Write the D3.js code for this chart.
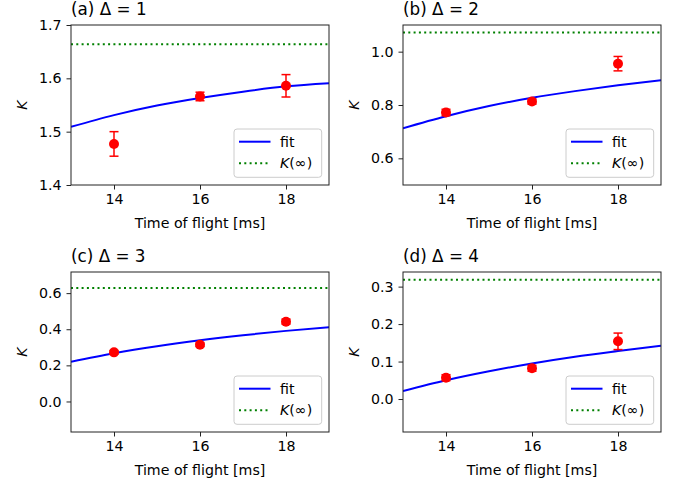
<!DOCTYPE html>
<html>
<head>
<meta charset="utf-8">
<script src="https://cdn.jsdelivr.net/npm/d3@7"></script>
<style>
  html, body { margin: 0; padding: 0; background: #fff; }
  svg { display: block; font-family: "DejaVu Sans", sans-serif; }
</style>
</head>
<body>
<svg id="chart" width="692" height="485"></svg>
<script>
// ---- data ----
const times = [14, 16, 18];
const fitTimes = [13, 14, 15, 16, 17, 18, 19];
const xTicks = [14, 16, 18];

const titles = ["(a)", "(b)", "(c)", "(d)"];
const deltas = [1, 2, 3, 4];

const kA = [1.477, 1.566, 1.586];
const errA = [0.023, 0.008, 0.021];
const fitA = [1.509, 1.531, 1.549, 1.563, 1.575, 1.585, 1.591];

const kB = [0.772, 0.813, 0.955];
const errB = [0.012, 0.010, 0.027];
const fitB = [0.713, 0.758, 0.796, 0.827, 0.852, 0.874, 0.893];

const kC = [0.272, 0.314, 0.442];
const errC = [0.010, 0.010, 0.014];
const fitC = [0.220, 0.267, 0.306, 0.339, 0.367, 0.391, 0.411];

const kD = [0.057, 0.082, 0.154];
const errD = [0.008, 0.008, 0.022];
const fitD = [0.021, 0.050, 0.074, 0.095, 0.113, 0.128, 0.142];

const kInf = [1.664, 1.072, 0.629, 0.318];

const yTicksA = [1.4, 1.5, 1.6, 1.7];
const yTicksB = [0.6, 0.8, 1.0];
const yTicksC = [0.0, 0.2, 0.4, 0.6];
const yTicksD = [0.0, 0.1, 0.2, 0.3];

const yDomA = [1.4, 1.7];
const yDomB = [0.5, 1.1];
const yDomC = [-0.169, 0.717];
const yDomD = [-0.088, 0.339];

const xDom = [13, 19];

// ---- layout ----
const svg = d3.select("#chart");
const boxes = [
  {x: 71, y: 25, w: 258, h: 160},
  {x: 403, y: 25, w: 258, h: 160},
  {x: 71, y: 272, w: 258, h: 160},
  {x: 403, y: 272, w: 258, h: 160}
];
const panelData = [
  {k: kA, err: errA, fit: fitA, ticks: yTicksA, dom: yDomA},
  {k: kB, err: errB, fit: fitB, ticks: yTicksB, dom: yDomB},
  {k: kC, err: errC, fit: fitC, ticks: yTicksC, dom: yDomC},
  {k: kD, err: errD, fit: fitD, ticks: yTicksD, dom: yDomD}
];

const FS = 14.2;

panelData.forEach((p, i) => {
  const b = boxes[i];
  const g = svg.append("g").attr("transform", `translate(${b.x},${b.y})`);
  const x = d3.scaleLinear().domain(xDom).range([0, b.w]);
  const y = d3.scaleLinear().domain(p.dom).range([b.h, 0]);

  const clipId = "clip" + i;
  g.append("clipPath").attr("id", clipId)
    .append("rect").attr("width", b.w).attr("height", b.h);
  const plot = g.append("g").attr("clip-path", `url(#${clipId})`);

  // fit curve
  const line = d3.line()
    .x((d, j) => x(fitTimes[j]))
    .y(d => y(d))
    .curve(d3.curveMonotoneX);
  plot.append("path").datum(p.fit)
    .attr("d", line)
    .attr("fill", "none")
    .attr("stroke", "#0000ff")
    .attr("stroke-width", 2);

  // K(inf)
  plot.append("line")
    .attr("x1", x(xDom[0])).attr("x2", x(xDom[1]))
    .attr("y1", y(kInf[i])).attr("y2", y(kInf[i]))
    .attr("stroke", "#008000")
    .attr("stroke-width", 2)
    .attr("stroke-dasharray", "2,3.3");

  // error bars
  const eb = plot.append("g").attr("stroke", "#ff0000").attr("stroke-width", 1.5);
  times.forEach((t, j) => {
    const cx = x(t), y1 = y(p.k[j] - p.err[j]), y2 = y(p.k[j] + p.err[j]);
    eb.append("line").attr("x1", cx).attr("x2", cx).attr("y1", y1).attr("y2", y2);
    eb.append("line").attr("x1", cx - 4.5).attr("x2", cx + 4.5).attr("y1", y1).attr("y2", y1);
    eb.append("line").attr("x1", cx - 4.5).attr("x2", cx + 4.5).attr("y1", y2).attr("y2", y2);
  });
  plot.append("g").selectAll("circle").data(times).join("circle")
    .attr("cx", d => x(d))
    .attr("cy", (d, j) => y(p.k[j]))
    .attr("r", 5)
    .attr("fill", "#ff0000");

  // axes
  const xAxis = d3.axisBottom(x).tickValues(xTicks).tickFormat(d3.format("d"))
    .tickSize(4.5).tickPadding(4);
  const xg = g.append("g").attr("transform", `translate(0,${b.h})`).call(xAxis);
  const yAxis = d3.axisLeft(y).tickValues(p.ticks).tickFormat(d3.format(".1f"))
    .tickSize(4.5).tickPadding(5);
  const yg = g.append("g").call(yAxis);
  [xg, yg].forEach(ax => {
    ax.select(".domain").remove();
    ax.selectAll(".tick line").attr("stroke", "#222").attr("stroke-width", 1);
    ax.selectAll(".tick text").attr("fill", "#000").attr("font-size", FS)
      .attr("font-family", "DejaVu Sans");
  });
  xg.selectAll(".tick text").attr("dy", "0.71em");

  // frame
  g.append("rect").attr("width", b.w).attr("height", b.h)
    .attr("fill", "none").attr("stroke", "#222").attr("stroke-width", 1);

  // x label
  g.append("text")
    .attr("x", b.w / 2).attr("y", b.h + 42.5)
    .attr("text-anchor", "middle")
    .attr("font-size", FS)
    .text("Time of flight [ms]");

  // y label
  g.append("text")
    .attr("transform", `translate(-44.5,${b.h / 2}) rotate(-90)`)
    .attr("text-anchor", "middle")
    .attr("font-size", FS)
    .attr("font-style", "italic")
    .text("K");

  // title
  const tt = g.append("text")
    .attr("x", 0).attr("y", -10)
    .attr("font-size", 16.8);
  tt.append("tspan").text(titles[i] + " Δ = " + deltas[i]);

  // legend
  const lw = 87.7, lh = 48.3;
  const lx = b.w - 7.3 - lw, ly = b.h - 7.7 - lh;
  const lg = g.append("g").attr("transform", `translate(${lx},${ly})`);
  lg.append("rect").attr("width", lw).attr("height", lh)
    .attr("rx", 3).attr("ry", 3)
    .attr("fill", "#fff").attr("fill-opacity", 0.8)
    .attr("stroke", "#cccccc").attr("stroke-width", 1);
  lg.append("line").attr("x1", 5).attr("x2", 36.5).attr("y1", 12.7).attr("y2", 12.7)
    .attr("stroke", "#0000ff").attr("stroke-width", 2);
  lg.append("line").attr("x1", 5).attr("x2", 36.5).attr("y1", 34.3).attr("y2", 34.3)
    .attr("stroke", "#008000").attr("stroke-width", 2).attr("stroke-dasharray", "2,3.3");
  lg.append("text").attr("x", 46).attr("y", 12.7).attr("dy", "0.35em")
    .attr("font-size", FS).text("fit");
  const kt = lg.append("text").attr("x", 46).attr("y", 34.3).attr("dy", "0.35em")
    .attr("font-size", FS);
  kt.append("tspan").attr("font-style", "italic").text("K");
  kt.append("tspan").text("(∞)");
});
</script>
</body>
</html>
